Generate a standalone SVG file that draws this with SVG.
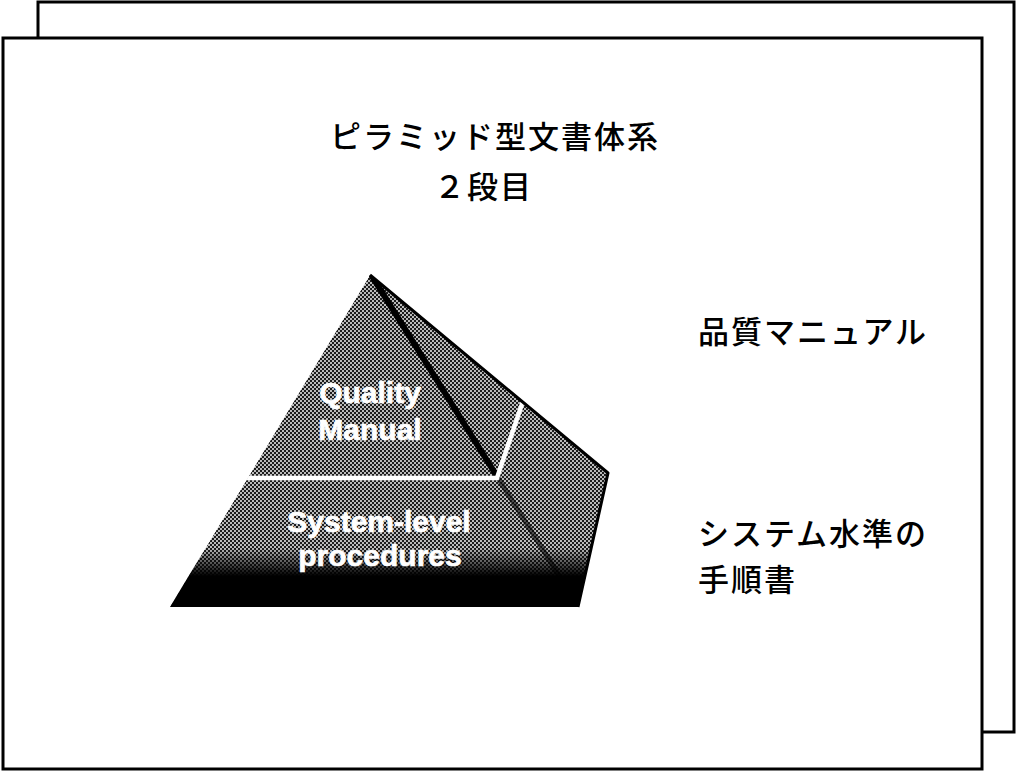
<svg xmlns="http://www.w3.org/2000/svg" width="1018" height="774" viewBox="0 0 1018 774">
  <style>
    .page { fill: #ffffff; stroke: #000000; stroke-width: 3; }
    .jp { font-family: "Noto Sans CJK JP", "Noto Sans", sans-serif; font-size: 31px; font-weight: 500; letter-spacing: 2px; fill: #000000; }
    .en { font-family: "Liberation Sans", Arial, sans-serif; font-weight: bold; font-size: 30px; fill: #ffffff; stroke: #ffffff; stroke-width: 0.7; text-anchor: middle; }
  </style>
  <defs>
    <!-- halftone screen used for the pyramid faces -->
    <pattern id="halftone" width="4" height="4" patternUnits="userSpaceOnUse">
      <rect width="4" height="4" fill="#1c1c1c"/>
      <circle cx="1" cy="1" r="0.95" fill="#ffffff"/>
      <circle cx="3" cy="3" r="0.95" fill="#ffffff"/>
    </pattern>
    <linearGradient id="base-shadow" gradientUnits="userSpaceOnUse" x1="0" y1="548" x2="0" y2="576">
      <stop offset="0" stop-color="#000000" stop-opacity="0"/>
      <stop offset="1" stop-color="#000000" stop-opacity="1"/>
    </linearGradient>
    <clipPath id="pyramid-clip">
      <polygon points="170,607 370,275 608,473 578,607"/>
    </clipPath>
  </defs>

  <!-- stacked sheets -->
  <g id="back-page">
    <rect class="page" x="38" y="2" width="976" height="730" stroke-width="2.5"/>
  </g>
  <g id="front-page">
    <rect class="page" x="3" y="38" width="979" height="731"/>
  </g>

  <!-- heading -->
  <g id="title">
    <text class="jp" x="330" y="148">ピラミッド型文書体系</text>
    <text class="jp" x="434" y="198">２段目</text>
  </g>

  <!-- two-tier pyramid -->
  <g id="pyramid">
    <g clip-path="url(#pyramid-clip)">
      <polygon points="170,607 370,275 578,607" fill="url(#halftone)"/>
      <polygon points="370,275 608,473 578,607" fill="url(#halftone)"/>
      <!-- ridge between front and side faces -->
      <line x1="370" y1="273" x2="498" y2="478" stroke="#000000" stroke-width="6"/>
      <line x1="498" y1="478" x2="560" y2="577" stroke="#000000" stroke-width="5" stroke-opacity="0.6"/>
      <!-- dark base of the lower tier -->
      <rect x="160" y="540" width="460" height="70" fill="url(#base-shadow)"/>
      <!-- tier divider -->
      <polyline points="240,478 497,478 523,401" fill="none" stroke="#ffffff" stroke-width="4.5"/>
    </g>
    <polyline points="370,275 608,473 578,607" fill="none" stroke="#000000" stroke-width="3" stroke-linejoin="round"/>
  </g>

  <g id="tier-quality-manual">
    <text class="en" x="370" y="403">Quality</text>
    <text class="en" x="370" y="440">Manual</text>
  </g>
  <g id="tier-system-procedures">
    <text class="en" x="379" y="532">System-level</text>
    <text class="en" x="380" y="566">procedures</text>
  </g>

  <!-- tier captions -->
  <g id="label-quality-manual">
    <text class="jp" x="698" y="343">品質マニュアル</text>
  </g>
  <g id="label-system-procedures">
    <text class="jp" x="698" y="545">システム水準の</text>
    <text class="jp" x="698" y="591">手順書</text>
  </g>

  <g id="connectors"/>
</svg>
